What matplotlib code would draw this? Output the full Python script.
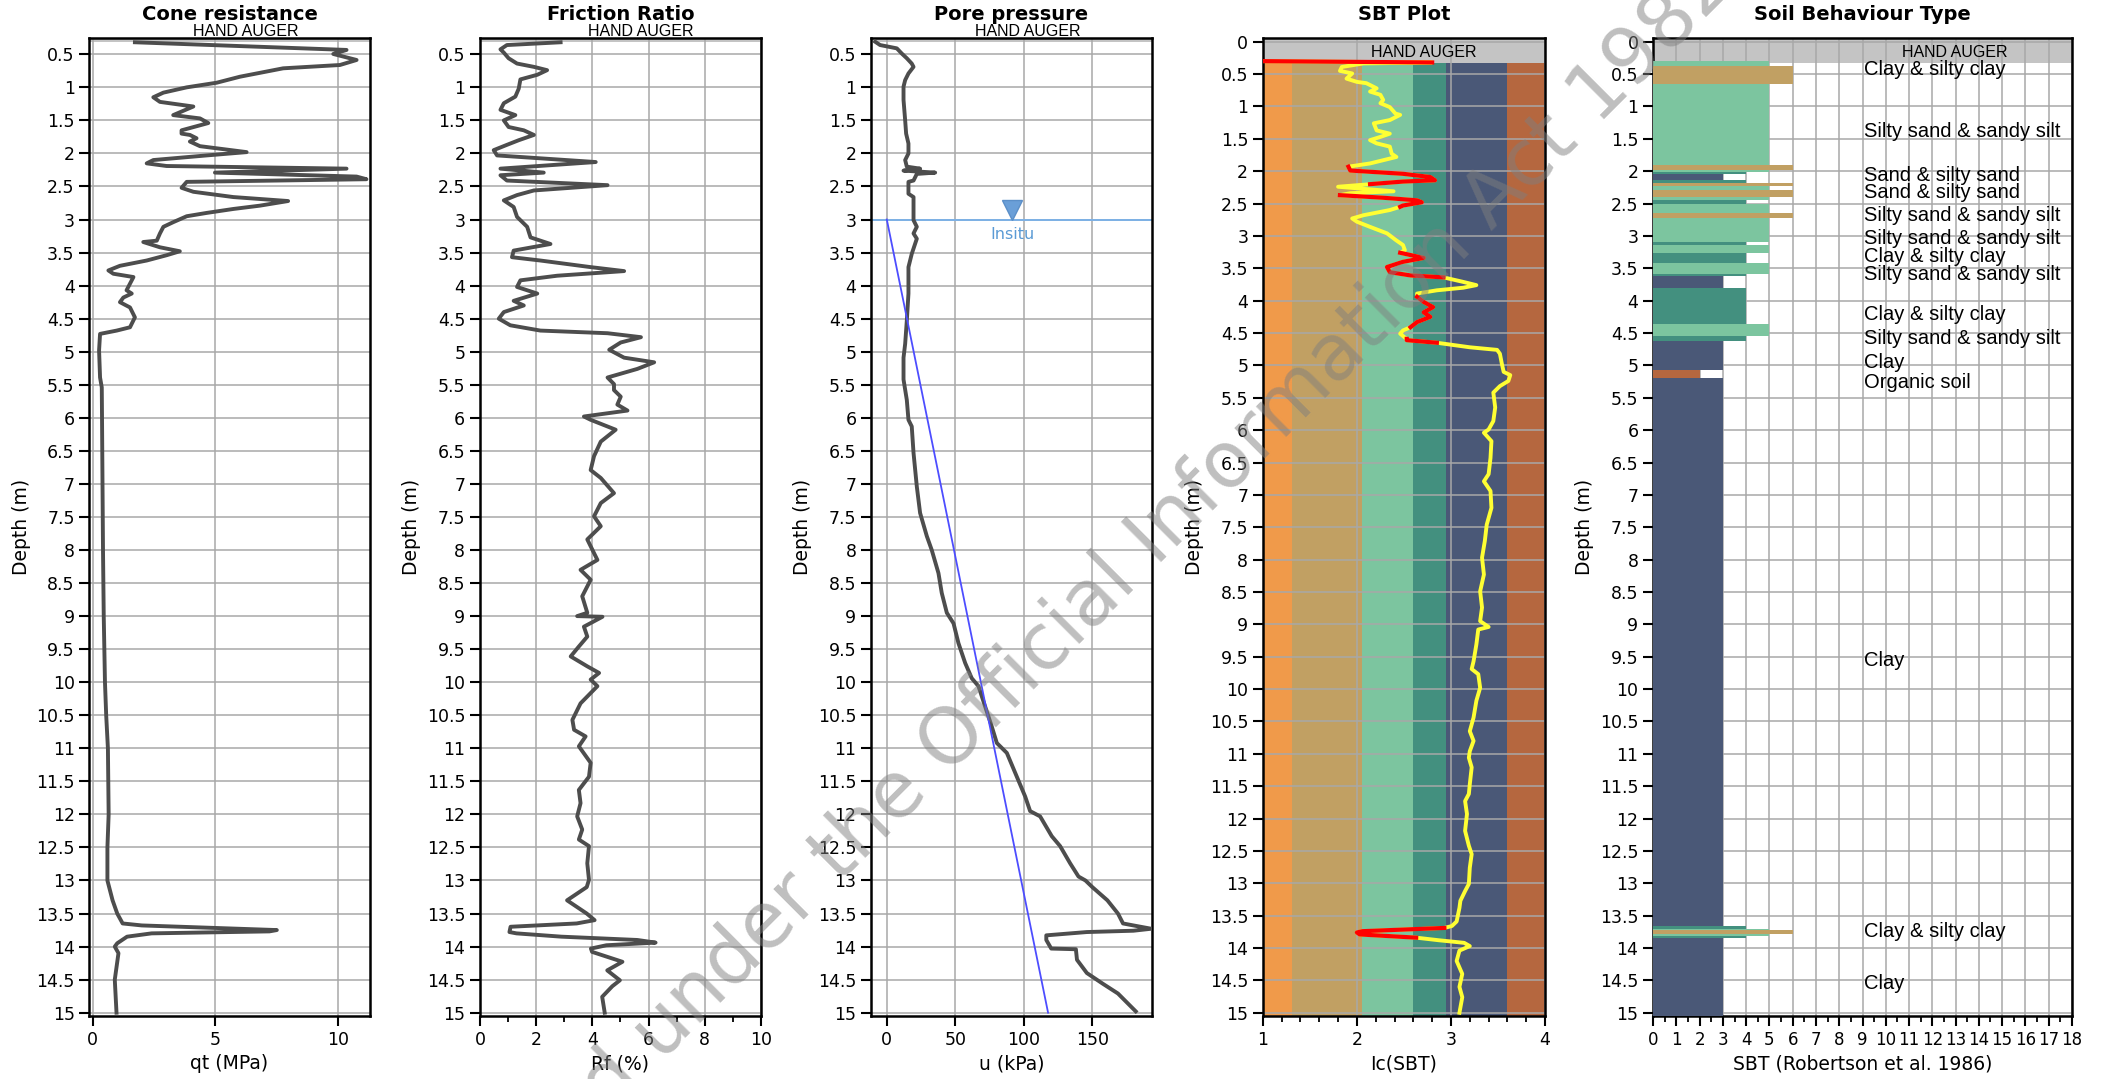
import numpy as np
import matplotlib.pyplot as plt
import matplotlib.transforms as mtransforms
from matplotlib.ticker import MultipleLocator, FuncFormatter

plt.rcParams['font.family'] = ['DejaVu Sans']
NARROW = ['Liberation Sans', 'DejaVu Sans']

# ---------------- data ----------------
qt_depth = [0.318, 0.434, 0.495, 0.586, 0.662, 0.712, 0.839, 0.93, 1.0, 1.08, 1.15, 1.22, 1.29,
            1.42, 1.47, 1.54, 1.65, 1.70, 1.72, 1.77, 1.82, 1.89, 1.98, 2.03, 2.10, 2.15, 2.19,
            2.23, 2.29, 2.35, 2.39, 2.43, 2.52, 2.58, 2.66, 2.72, 2.79, 2.84, 2.90, 2.95, 3.04,
            3.11, 3.21, 3.32, 3.34, 3.42, 3.48, 3.54, 3.62, 3.70, 3.77, 3.82, 3.87, 4.07, 4.12,
            4.18, 4.25, 4.33, 4.48, 4.63, 4.68, 4.73, 4.98, 5.39, 5.54, 6.0, 7.0, 8.0, 9.0, 10.0,
            10.5, 11.0, 12.0, 12.5, 13.0, 13.3, 13.5, 13.65, 13.68, 13.75, 13.77, 13.80, 13.85,
            13.90, 13.95, 14.0, 14.1, 14.5, 15.0]
qt_value = [1.72, 10.34, 9.8, 10.75, 10.07, 7.76, 6.0, 5.05, 3.83, 2.88, 2.47, 2.74, 4.1,
            3.28, 4.37, 4.71, 3.62, 3.62, 3.96, 4.23, 3.96, 4.37, 6.27, 4.64, 2.47, 2.2, 3.01,
            10.34, 4.98, 10.75, 11.15, 3.83, 3.62, 4.1, 5.73, 7.96, 6.81, 5.73, 4.64, 3.83, 3.28,
            2.88, 2.74, 2.61, 2.06, 2.74, 3.55, 3.01, 2.2, 1.11, 0.64, 0.84, 1.66, 1.38, 1.59,
            1.25, 1.11, 1.52, 1.72, 1.52, 0.98, 0.3, 0.26, 0.3, 0.37, 0.38, 0.4, 0.42, 0.45, 0.5,
            0.55, 0.62, 0.65, 0.6, 0.6, 0.81, 1.0, 1.22, 2.0, 7.5, 7.2, 2.4, 1.4,
            1.2, 1.0, 0.9, 1.05, 0.9, 0.97]

rf_depth = [0.318, 0.36, 0.425, 0.475, 0.56, 0.64, 0.69, 0.74, 0.81, 0.88, 1.02, 1.14, 1.24, 1.34,
            1.42, 1.5, 1.6, 1.65, 1.72, 1.8, 1.87, 1.95, 2.03, 2.13, 2.23, 2.29, 2.33, 2.41, 2.48,
            2.56, 2.63, 2.71, 2.81, 2.96, 3.11, 3.27, 3.37, 3.47, 3.57, 3.62, 3.72, 3.78, 3.85,
            3.92, 4.02, 4.12, 4.23, 4.3, 4.4, 4.5, 4.6, 4.68, 4.72, 4.78, 4.86, 4.97, 5.09, 5.16,
            5.26, 5.39, 5.49, 5.58, 5.68, 5.8, 5.89, 5.98, 6.03, 6.18, 6.36, 6.58, 6.79, 6.91,
            7.14, 7.29, 7.49, 7.64, 7.84, 8.15, 8.3, 8.45, 8.7, 8.95, 9.0, 9.01, 9.16, 9.31, 9.46,
            9.61, 9.76, 9.86, 9.96, 10.06, 10.32, 10.57, 10.72, 10.82, 10.97, 11.22, 11.43, 11.63,
            11.83, 12.03, 12.23, 12.38, 12.48, 12.74, 12.99, 13.1, 13.3, 13.5, 13.6, 13.65, 13.7,
            13.78, 13.8, 13.85, 13.9, 13.94, 13.98, 14.03, 14.08, 14.23, 14.36, 14.51, 14.6,
            14.76, 15.0]
rf_value = [2.87, 0.96, 0.73, 0.85, 1.02, 1.32, 1.92, 2.39, 2.04, 1.44, 1.38, 1.26, 0.85, 0.73,
            1.26, 0.85, 1.02, 1.56, 1.92, 1.38, 0.96, 0.49, 0.61, 4.12, 0.73, 2.27, 0.73, 0.96, 4.54,
            1.92, 1.32, 0.85, 1.2, 1.32, 1.68, 1.8, 2.51, 1.2, 1.14, 2.15, 3.94, 5.13, 2.75,
            1.44, 1.32, 2.04, 1.2, 1.56, 0.85, 0.67, 1.08, 2.15, 4.54, 5.73, 5.01, 4.6, 5.13, 6.2,
            5.6, 4.54, 4.77, 4.77, 5.01, 4.89, 5.25, 3.7, 3.94, 4.83, 4.3, 4.06, 3.94, 4.3,
            4.77, 4.3, 4.06, 4.3, 3.82, 4.18, 3.58, 3.94, 3.64, 3.82, 3.46, 4.36, 3.7, 3.82, 3.52,
            3.23, 3.82, 4.24, 3.94, 4.18, 3.58, 3.29, 3.35, 3.76, 3.52, 3.94, 3.88, 3.52,
            3.58, 3.46, 3.64, 3.52, 3.88, 3.82, 3.88, 3.8, 3.1, 3.8, 4.08, 3.44, 1.09,
            1.05, 1.3, 2.9, 5.6, 6.25, 4.5, 3.95, 3.99, 5.07, 4.53, 4.98, 4.71,
            4.35, 4.44]

u_depth = [0.31, 0.36, 0.38, 0.41, 0.49, 0.56, 0.64, 0.69, 0.79, 0.89, 0.99, 1.19, 1.5, 1.7, 1.85,
           2.0, 2.1, 2.2, 2.23, 2.26, 2.29, 2.31, 2.41, 2.43, 2.61, 2.66, 3.01, 3.11, 3.21, 3.29,
           3.52, 3.72, 4.12, 4.53, 4.88, 5.09, 5.42, 5.73, 6.03, 6.13, 6.53, 7.04, 7.44, 7.79,
           8.0, 8.35, 8.65, 8.95, 9.11, 9.41, 9.71, 9.94, 10.06, 10.37, 10.67, 10.92, 11.07,
           11.43, 11.73, 11.95, 12.03, 12.33, 12.48, 12.74, 12.94, 13.0, 13.1, 13.3, 13.5, 13.65,
           13.68, 13.73, 13.76, 13.78, 13.83, 13.9, 14.03, 14.04, 14.2, 14.4, 14.56, 14.71, 14.98]
u_value = [-8.5, -4.9, 0.0, 7.3, 11.0, 14.6, 18.2, 19.5, 15.8, 13.4, 12.2, 12.2, 13.4, 14.1, 15.8,
           15.8, 13.4, 14.6, 24.3, 12.2, 35.3, 21.9, 19.5, 15.8, 15.8, 19.5, 19.5, 21.9, 19.5, 21.9,
           18.2, 15.8, 15.8, 14.6, 13.4, 12.2, 12.2, 14.6, 15.8, 18.2, 19.5, 21.9, 24.3, 29.2,
           32.8, 37.7, 40.1, 43.8, 48.7, 52.3, 57.2, 62.0, 66.9, 71.8, 76.6, 80.3, 87.6,
           94.9, 101.0, 104.6, 111.9, 120.4, 126.5, 133.8, 139.9, 145.0, 150.0, 161.0, 168.7, 172.4,
           180.0, 193.0, 180.0, 146.0, 116.4, 116.4, 120.0, 138.0, 138.8, 146.0, 157.5, 168.7, 181.7]

hydro_depth = [3.0, 15.0]
hydro_u = [0.0, 117.7]
water_table = 3.0
water_marker_u = 91.5

ic_depth = [0.30, 0.32, 0.335, 0.39, 0.45, 0.49, 0.57, 0.62, 0.64, 0.72, 0.77, 0.82, 0.90, 0.95,
            1.01, 1.11, 1.13, 1.21, 1.26, 1.37, 1.42, 1.47, 1.52, 1.57, 1.62, 1.73, 1.78, 1.83,
            1.88, 1.93, 1.99, 2.04, 2.09, 2.14, 2.16, 2.20, 2.24, 2.28, 2.31, 2.34, 2.37, 2.41,
            2.45, 2.48, 2.53, 2.55, 2.60, 2.68, 2.73, 2.78, 2.86, 2.96, 3.07, 3.14, 3.22, 3.26,
            3.34, 3.40, 3.48, 3.56, 3.61, 3.64, 3.71, 3.76, 3.80, 3.84, 3.89, 3.94, 4.02, 4.10,
            4.18, 4.25, 4.33, 4.41, 4.46, 4.51, 4.57, 4.59, 4.61, 4.65, 4.72, 4.76, 4.82, 4.97,
            5.10, 5.15, 5.24, 5.32, 5.42, 5.65, 5.86, 5.99, 6.04, 6.17, 6.43, 6.68, 6.79, 6.94,
            7.20, 7.46, 7.71, 7.97, 8.23, 8.49, 8.74, 8.95, 9.04, 9.08, 9.31, 9.57, 9.69, 9.77,
            9.98, 10.18, 10.44, 10.65, 10.80, 10.96, 11.06, 11.21, 11.47, 11.62, 11.73, 11.93,
            12.19, 12.42, 12.55, 12.76, 13.01, 13.12, 13.27, 13.38, 13.59, 13.66, 13.69, 13.74,
            13.76, 13.79, 13.84, 13.88, 13.92, 13.97, 14.04, 14.20, 14.40, 14.60, 14.76, 15.00]
ic_value = [1.02, 2.80, 2.07, 1.84, 1.82, 1.95, 1.89, 2.0, 2.1, 2.21, 2.14, 2.25, 2.28, 2.25,
            2.35, 2.41, 2.46, 2.35, 2.18, 2.21, 2.35, 2.25, 2.14, 2.21, 2.35, 2.37, 2.42, 2.28,
            2.14, 1.91, 1.93, 2.49, 2.78, 2.83, 2.49, 2.14, 1.80, 2.14, 2.39, 1.93, 1.82, 2.28,
            2.64, 2.69, 2.49, 2.46, 2.35, 2.07, 1.95, 2.0, 2.14, 2.32, 2.42, 2.49, 2.51, 2.46,
            2.71, 2.49, 2.32, 2.35, 2.57, 2.92, 3.13, 3.27, 3.13, 2.85, 2.64, 2.64, 2.71, 2.81,
            2.71, 2.78, 2.64, 2.57, 2.49, 2.46, 2.51, 2.53, 2.53, 2.85, 3.2, 3.49, 3.52, 3.54,
            3.56, 3.63, 3.61, 3.52, 3.45, 3.47, 3.45, 3.40, 3.35, 3.43, 3.42, 3.40, 3.35, 3.42,
            3.43, 3.38, 3.36, 3.33, 3.35, 3.31, 3.33, 3.31, 3.40, 3.29, 3.27, 3.24, 3.22, 3.29,
            3.31, 3.27, 3.24, 3.20, 3.24, 3.20, 3.19, 3.22, 3.20, 3.19, 3.15, 3.17,
            3.15, 3.19, 3.22, 3.20, 3.19, 3.15, 3.10, 3.09, 3.06, 3.01, 2.93, 2.06,
            2.00, 2.03, 2.63, 2.87, 3.14, 3.20, 3.09, 3.06, 3.12, 3.09, 3.12, 3.09]
ic_red_ranges = [(0.30, 0.32), (1.93, 2.20), (2.37, 2.55), (3.26, 3.64), (3.94, 4.41),
                 (4.59, 4.65), (13.69, 13.84)]

zone_edges = [1.0, 1.31, 2.05, 2.60, 2.95, 3.60, 4.0]
zone_colors = ['#F09A4A', '#C1A063', '#7CC59F', '#43907F', '#4A5877', '#B5673F']
sbt_color = {2: '#B5673F', 3: '#4A5877', 4: '#43907F', 5: '#7CC59F', 6: '#C1A063'}

layer_top = [0.30, 0.37, 0.65, 1.91, 1.985, 2.015, 2.05, 2.13, 2.18, 2.23, 2.29, 2.40, 2.44,
             2.51, 2.65, 2.73, 3.09, 3.14, 3.26, 3.42, 3.59, 3.62, 3.81, 4.36, 4.54, 4.63,
             5.07, 5.19, 13.66, 13.70, 13.72, 13.79, 13.81, 13.84]
layer_bottom = [0.37, 0.65, 1.91, 1.985, 2.015, 2.05, 2.13, 2.18, 2.23, 2.29, 2.40, 2.44, 2.51,
                2.65, 2.73, 3.09, 3.14, 3.26, 3.42, 3.59, 3.62, 3.81, 4.36, 4.54, 4.63, 5.07,
                5.19, 13.66, 13.70, 13.72, 13.79, 13.81, 13.84, 15.05]
layer_zone = [5, 6, 5, 6, 5, 4, 3, 4, 6, 5, 6, 5, 4, 5, 6, 5, 4, 5, 4, 5, 4, 3, 4, 5, 4, 3,
              2, 3, 4, 5, 6, 5, 4, 3]

label_text = ['Clay & silty clay', 'Silty sand & sandy silt', 'Sand & silty sand',
              'Sand & silty sand', 'Silty sand & sandy silt', 'Silty sand & sandy silt',
              'Clay & silty clay', 'Silty sand & sandy silt', 'Clay & silty clay',
              'Silty sand & sandy silt', 'Clay', 'Organic soil', 'Clay', 'Clay & silty clay', 'Clay']
label_depth = [0.43, 1.38, 2.06, 2.33, 2.69, 3.04, 3.32, 3.60, 4.22, 4.58, 4.96, 5.26, 9.56,
               13.74, 14.55]

# ---------------- figure ----------------
fig = plt.figure(figsize=(21.05, 10.79), dpi=100)
bottom, height = 0.0584, 0.9061
lefts = [0.0424, 0.2280, 0.4138, 0.5999, 0.7853]
widths = [0.1333, 0.1335, 0.1335, 0.1341, 0.1990]
axes = [fig.add_axes([l, bottom, w, height]) for l, w in zip(lefts, widths)]

GRID = '#A8A8A8'
CURVE = '#4D4D4D'
fmt = FuncFormatter(lambda v, p: f"{v:g}")


def style(ax, title, xlabel, top):
    ax.set_ylim(15.05, top)
    start = 0.5 if top > 0 else 0.0
    ax.set_yticks(np.arange(start, 15.01, 0.5))
    ax.yaxis.set_major_formatter(fmt)
    ax.set_axisbelow('line')
    ax.grid(True, color=GRID, linewidth=1.1)
    ax.set_title(title, fontsize=14, fontweight='bold', pad=13)
    ax.set_xlabel(xlabel, fontsize=13.5, labelpad=4)
    ax.set_ylabel('Depth (m)', fontsize=13.5)
    ax.tick_params(axis='both', which='major', direction='out', length=7, width=1.5,
                   labelsize=12.5)
    ax.tick_params(axis='both', which='minor', direction='out', length=4, width=1.3)
    for s in ax.spines.values():
        s.set_linewidth(1.8)
        s.set_color('black')


def hand_auger(ax, xfrac, band_bottom):
    trans = mtransforms.blended_transform_factory(ax.transAxes, ax.transData)
    ax.axhspan(-0.1, band_bottom, color='#C4C4C4', zorder=1, lw=0)
    ax.text(xfrac, 0.16, 'HAND AUGER', transform=trans, ha='center', va='center',
            fontsize=11.5, family=NARROW, clip_on=False, zorder=5)


# Cone resistance
ax = axes[0]
ax.plot(qt_value, qt_depth, color=CURVE, lw=2.8, zorder=3)
ax.set_xlim(-0.14, 11.29)
ax.set_xticks([0, 5, 10])
style(ax, 'Cone resistance', 'qt (MPa)', 0.258)
hand_auger(ax, 0.558, 0.32)

# Friction ratio
ax = axes[1]
ax.plot(rf_value, rf_depth, color=CURVE, lw=2.8, zorder=3)
ax.set_xlim(0, 10)
ax.set_xticks(np.arange(0, 11, 2))
ax.xaxis.set_minor_locator(MultipleLocator(1))
style(ax, 'Friction Ratio', 'Rf (%)', 0.258)
hand_auger(ax, 0.573, 0.32)

# Pore pressure
ax = axes[2]
ax.plot(u_value, u_depth, color=CURVE, lw=2.8, zorder=3)
ax.plot(hydro_u, hydro_depth, color='#4D4DFF', lw=1.3, zorder=3)
ax.axhline(water_table, color='#7DB1E6', lw=1.4, zorder=2.5)
ax.plot([water_marker_u], [water_table - 0.14], marker='v', markersize=15,
        color='#6A9FD8', markeredgecolor='#5B8FC8', zorder=4)
ax.text(water_marker_u, water_table + 0.22, 'Insitu', color='#5B9BD5', fontsize=11.5,
        ha='center', va='center', zorder=4)
ax.set_xlim(-11.5, 193.6)
ax.set_xticks([0, 50, 100, 150])
style(ax, 'Pore pressure', 'u (kPa)', 0.258)
hand_auger(ax, 0.559, 0.32)

# SBT plot
ax = axes[3]
for x0, x1, c in zip(zone_edges[:-1], zone_edges[1:], zone_colors):
    ax.fill_betweenx([0.325, 15.1], x0, x1, color=c, lw=0, zorder=1)
ic_d = np.array(ic_depth)
ic_v = np.array(ic_value)
red_mask = np.zeros(len(ic_d), dtype=bool)
for a, b in ic_red_ranges:
    red_mask |= (ic_d >= a - 1e-6) & (ic_d <= b + 1e-6)
ax.plot(ic_v, ic_d, color='#FFFF33', lw=2.8, zorder=3)
ax.plot(np.where(red_mask, ic_v, np.nan), ic_d, color='#FF0000', lw=3.0, zorder=4)
ax.set_xlim(1, 4)
ax.set_xticks([1, 2, 3, 4])
ax.xaxis.set_minor_locator(MultipleLocator(0.2))
style(ax, 'SBT Plot', 'Ic(SBT)', -0.053)
hand_auger(ax, 0.571, 0.325)

# Soil behaviour type
ax = axes[4]
lt = np.array(layer_top)
lb = np.array(layer_bottom)
ax.barh((lt + lb) / 2, layer_zone, height=lb - lt, left=0,
        color=[sbt_color[z] for z in layer_zone], linewidth=0, zorder=3)
for txt, d in zip(label_text, label_depth):
    ax.text(9.05, d, txt, fontsize=14.5, family=NARROW, ha='left', va='center', zorder=4)
ax.set_xlim(0, 18)
ax.set_xticks(np.arange(0, 19, 1))
ax.xaxis.set_minor_locator(MultipleLocator(0.5))
style(ax, 'Soil Behaviour Type', 'SBT (Robertson et al. 1986)', -0.053)
ax.tick_params(axis='x', which='major', labelsize=12)
hand_auger(ax, 0.72, 0.325)

# watermark
fig.text(0.499, 0.405, 'Released under the Official Information Act 1982', rotation=45,
         rotation_mode='anchor', ha='center', va='center', fontsize=56,
         color='#7F7F7F', alpha=0.5, zorder=20)

fig.savefig('out.png', dpi=100)
